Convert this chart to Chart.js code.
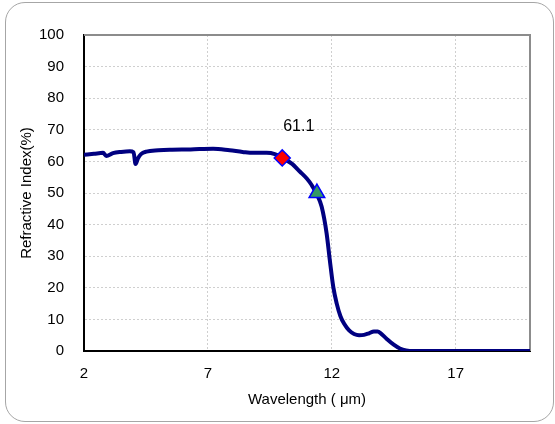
<!DOCTYPE html>
<html>
<head>
<meta charset="utf-8">
<script src="https://cdn.jsdelivr.net/npm/chart.js@4/dist/chart.umd.min.js"></script>
<style>
    html, body { margin: 0; padding: 0; background: #fff; }
    #wrap { position: relative; width: 555px; height: 424px; }
    #frame {
        position: absolute; left: 5px; top: 2px; width: 547px; height: 418px;
        border: 1px solid #a6a6a6; border-radius: 20px;
    }
    #chart { position: absolute; left: 0; top: 0; }
</style>
</head>
<body>
<div id="wrap">
    <div id="frame"></div>
    <canvas id="chart" width="555" height="424"></canvas>
</div>
<script>
(function () {
    'use strict';

    // spectrum
    var wavelength = [2.0, 2.4, 2.77, 2.9, 3.17, 3.5, 3.85, 4.0, 4.08, 4.18, 4.3, 4.52, 5.0, 5.46, 6.3,
        7.21, 7.88, 8.4, 8.83, 9.37, 9.7, 10.0, 10.4, 10.71, 11.0, 11.18, 11.4, 11.59, 11.79, 11.92,
        12.06, 12.2, 12.35, 12.5, 12.7, 12.9, 13.1, 13.3, 13.5, 13.7, 13.85, 14.0, 14.21, 14.5,
        14.75, 15.0, 15.3, 16, 18, 20];
    var refIndex = [62.1, 62.4, 62.7, 61.7, 62.6, 63.0, 63.2, 62.9, 59.2, 61.0, 62.3, 63.1, 63.5, 63.7, 63.8,
        64.0, 63.5, 63.0, 62.7, 62.7, 62.3, 61.1, 59.2, 56.8, 54.5, 52.6, 49.6, 45.7, 37.3, 28.8,
        20.3, 15.0, 11.0, 8.6, 6.5, 5.4, 5.0, 5.1, 5.6, 6.2, 6.2, 5.4, 3.9, 2.0,
        0.8, 0.2, 0.0, 0, 0, 0];

    // marked points
    var markerX = [10.0, 11.4];
    var markerY = [61.1, 50];
    var markerLabels = ['61.1', ''];

    var xTicks = [2, 7, 12, 17];

    var fontFamily = '"Liberation Sans", Arial, sans-serif';

    var curve = wavelength.map(function (w, i) { return { x: w, y: refIndex[i] }; });
    var marks = markerX.map(function (w, i) { return { x: w, y: markerY[i] }; });

    var plotExtras = {
        id: 'plotExtras',
        beforeDatasetsDraw: function (chart) {
            var ctx = chart.ctx, a = chart.chartArea;
            ctx.save();
            ctx.strokeStyle = '#8c8c8c';
            ctx.lineWidth = 2;
            ctx.beginPath();
            ctx.moveTo(a.left, a.top);
            ctx.lineTo(a.right, a.top);
            ctx.lineTo(a.right, a.bottom);
            ctx.stroke();
            ctx.restore();
        },
        afterDatasetsDraw: function (chart) {
            var ctx = chart.ctx;
            var meta = chart.getDatasetMeta(0);
            ctx.save();
            ctx.fillStyle = '#000';
            ctx.font = '16px ' + fontFamily;
            ctx.textAlign = 'left';
            ctx.textBaseline = 'alphabetic';
            meta.data.forEach(function (pt, i) {
                if (markerLabels[i]) {
                    ctx.fillText(markerLabels[i], pt.x + 1, pt.y - 27);
                }
            });
            ctx.restore();
        }
    };

    new Chart(document.getElementById('chart'), {
        type: 'line',
        data: {
            datasets: [{
                data: marks,
                order: 0,
                showLine: false,
                pointStyle: ['rectRot', 'triangle'],
                pointRadius: [8, 9],
                pointBackgroundColor: ['#ff0000', '#339966'],
                pointBorderColor: '#0000ff',
                pointBorderWidth: 1.5
            }, {
                data: curve,
                order: 1,
                borderColor: '#000080',
                borderWidth: 4,
                pointRadius: 0,
                cubicInterpolationMode: 'monotone',
                fill: false
            }]
        },
        options: {
            responsive: false,
            animation: false,
            events: [],
            layout: { padding: { top: 35, right: 25, left: 0, bottom: 0 } },
            plugins: {
                legend: { display: false },
                tooltip: { enabled: false }
            },
            scales: {
                x: {
                    type: 'linear',
                    min: 2,
                    max: 20,
                    afterBuildTicks: function (scale) {
                        scale.ticks = xTicks.map(function (v) { return { value: v }; });
                    },
                    afterFit: function (scale) { scale.height = 73; },
                    grid: { color: '#cfcfcf', lineWidth: 1, drawTicks: false },
                    border: { color: '#000', width: 2, dash: [2, 2] },
                    ticks: {
                        padding: 14,
                        maxRotation: 0,
                        color: '#000',
                        font: { family: fontFamily, size: 15 }
                    },
                    title: {
                        display: true,
                        text: 'Wavelength ( μm)',
                        color: '#000',
                        font: { family: fontFamily, size: 15 },
                        padding: { top: 0, bottom: 15 }
                    }
                },
                y: {
                    min: 0,
                    max: 100,
                    afterFit: function (scale) { scale.width = 84; },
                    grid: { color: '#cfcfcf', lineWidth: 1, drawTicks: false },
                    border: { color: '#000', width: 2, dash: [2, 2] },
                    ticks: {
                        stepSize: 10,
                        padding: 20,
                        color: '#000',
                        font: { family: fontFamily, size: 15 }
                    },
                    title: {
                        display: true,
                        text: 'Refractive Index(%)',
                        color: '#000',
                        font: { family: fontFamily, size: 15 },
                        padding: { top: 18, bottom: 0 }
                    }
                }
            }
        },
        plugins: [plotExtras]
    });
})();
</script>
</body>
</html>
